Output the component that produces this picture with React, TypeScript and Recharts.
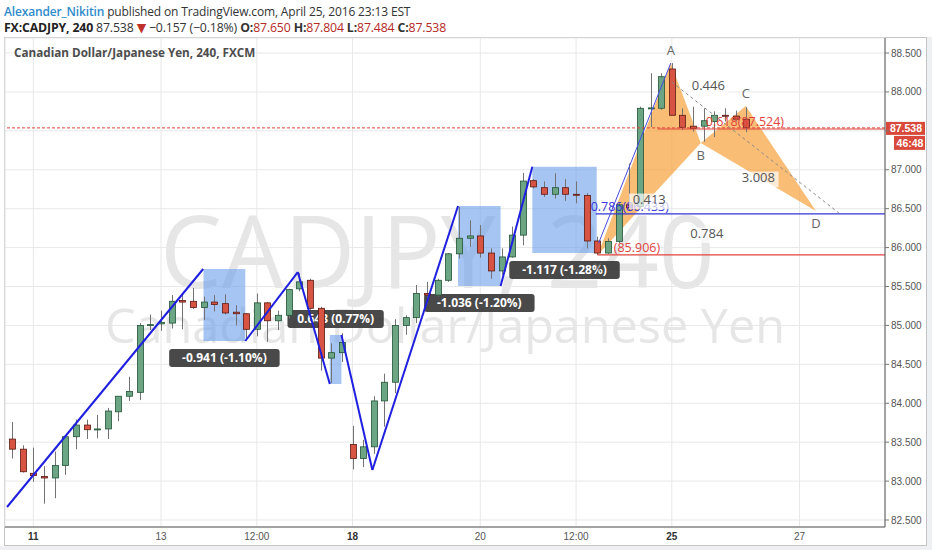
import React from "react";
import {
  ComposedChart, Bar, XAxis, YAxis, CartesianGrid, ReferenceLine,
  ReferenceArea, ReferenceDot, Scatter,
} from "recharts";

// 240-minute candles, index 0 = Apr 11 00:00
const firstIndex = -2;
const opens = [
  83.54, 83.41, 83.10, 83.06, 83.04, 83.20, 83.57, 83.72, 83.66, 83.67,
  83.89, 84.09, 84.14, 85.00, 85.02, 85.03, 85.32, 85.31, 85.23, 85.30,
  85.28, 85.17, 85.15, 84.95, 85.29, 85.06, 85.13, 85.47, 85.58, 85.22,
  84.58, 84.65, 83.47, 83.29, 83.44, 84.03, 84.27, 85.00, 85.10, 85.41,
  85.39, 85.58, 85.92, 86.12, 86.15, 85.93, 85.70, 85.88, 86.16, 86.86,
  86.77, 86.685, 86.77, 86.685, 86.67, 86.085, 85.93, 86.08, 86.55, 86.53,
  87.79, 87.79, 88.295, 87.70, 87.56, 87.56, 87.62, 87.70, 87.69, 87.65,
];
const highs = [
  83.76, 83.46, 83.43, 83.19, 83.38, 83.58, 83.79, 83.79, 83.85, 83.94,
  84.09, 84.34, 85.03, 85.14, 85.19, 85.39, 85.39, 85.48, 85.37, 85.39,
  85.40, 85.26, 85.16, 85.41, 85.30, 85.19, 85.47, 85.67, 85.60, 85.24,
  84.77, 84.90, 83.71, 83.53, 84.09, 84.38, 85.08, 85.13, 85.52, 85.56,
  85.60, 85.93, 86.52, 86.35, 86.29, 85.99, 85.99, 86.27, 86.96, 86.88,
  86.85, 86.955, 86.88, 86.85, 86.70, 86.14, 86.12, 86.57, 87.08, 87.81,
  88.24, 88.24, 88.37, 87.79, 87.81, 87.79, 87.75, 87.79, 87.76, 87.804,
];
const lows = [
  83.29, 83.11, 82.99, 82.71, 82.78, 83.08, 83.41, 83.54, 83.55, 83.54,
  83.77, 84.03, 84.04, 84.94, 84.93, 84.96, 84.95, 85.21, 85.07, 85.18,
  85.14, 85.00, 84.83, 84.86, 84.79, 84.94, 85.09, 85.44, 85.20, 84.42,
  84.26, 84.53, 83.15, 83.18, 83.35, 83.70, 84.13, 84.88, 85.03, 85.28,
  85.37, 85.56, 85.86, 86.01, 85.87, 85.60, 85.65, 85.87, 86.03, 86.76,
  86.65, 86.63, 86.60, 86.57, 85.99, 85.906, 85.92, 86.06, 86.48, 86.50,
  87.55, 87.77, 87.70, 87.51, 87.49, 87.36, 87.42, 87.62, 87.62, 87.484,
];
const closes = [
  83.41, 83.12, 83.07, 83.04, 83.20, 83.57, 83.72, 83.66, 83.67, 83.90,
  84.09, 84.15, 85.00, 85.01, 85.04, 85.31, 85.30, 85.23, 85.30, 85.27,
  85.16, 85.15, 84.95, 85.29, 85.06, 85.13, 85.46, 85.56, 85.22, 84.58,
  84.65, 84.78, 83.29, 83.44, 84.03, 84.27, 85.00, 85.10, 85.41, 85.39,
  85.58, 85.92, 86.12, 86.15, 85.93, 85.70, 85.88, 86.16, 86.855, 86.78,
  86.685, 86.77, 86.685, 86.675, 86.085, 85.93, 86.08, 86.55, 86.51, 87.79,
  87.795, 88.196, 87.70, 87.545, 87.53, 87.63, 87.70, 87.69, 87.65, 87.538,
];

const timeTicks = [0, 12, 21, 30, 42, 51, 60, 72];
const timeLabels = ["11", "13", "12:00", "18", "20", "12:00", "25", "27"];
const weekStarts = ["11", "18", "25"];
const priceTicks = [82.5, 83, 83.5, 84, 84.5, 85, 85.5, 86, 86.5, 87, 87.5, 88, 88.5];

// drawn trend lines [k1, p1, k2, p2]
const trendLines = [
  [-2.47, 82.667, 15.96, 85.725],
  [19.92, 84.8, 24.85, 85.686],
  [24.85, 85.686, 27.86, 84.247],
  [28.95, 84.877, 31.86, 83.142],
  [31.86, 83.142, 39.91, 86.534],
  [43.91, 85.506, 46.89, 87.039],
];
const xaLeg = [53.12, 86.059, 59.9, 88.37];
const guideLine = [59.99, 88.127, 75.7, 86.444];

// price range boxes
const rangeBoxes = [
  { k1: 15.99, k2: 19.92, top: 85.725, bottom: 84.8, text: "-0.941 (-1.10%)", up: false },
  { k1: 27.86, k2: 28.95, top: 84.877, bottom: 84.247, text: "0.643 (0.77%)", up: true },
  { k1: 39.91, k2: 43.91, top: 86.534, bottom: 85.506, text: "-1.036 (-1.20%)", up: false },
  { k1: 46.89, k2: 52.94, top: 87.039, bottom: 85.93, text: "-1.117 (-1.28%)", up: false },
];

// XABCD pattern
const patternPoints = [
  { name: "X", k: 53.03, p: 85.906, above: false },
  { name: "A", k: 59.9, p: 88.37, above: true },
  { name: "B", k: 62.72, p: 87.344, above: false },
  { name: "C", k: 66.95, p: 87.82, above: true },
  { name: "D", k: 73.54, p: 86.47, above: false },
];
const patternRatios = [
  { from: "X", to: "B", text: "0.413" },
  { from: "A", to: "C", text: "0.446" },
  { from: "B", to: "D", text: "3.008" },
  { from: "X", to: "D", text: "0.784" },
];

const fibLevels = [
  { price: 86.433, fromK: 52.84, textK: 52.37, text: "0.786(86.433)", color: "#3434d8" },
  { price: 85.906, fromK: 53.0, textK: 54.54, text: "(85.906)", color: "#e0443c" },
  { price: 87.524, fromK: 58.67, textK: 63.19, text: "0.618(87.524)", color: "#e0443c" },
];

const lastPrice = 87.538;
const countdown = "46:48";

const X_DOMAIN = [-2.662, 80.03];
const Y_DOMAIN = [82.41, 88.693];

const candles = opens.map((o, i) => ({
  k: firstIndex + i, o, h: highs[i], l: lows[i], c: closes[i], range: [lows[i], highs[i]],
}));
const pt = (n: string) => patternPoints.find((q) => q.name === n)!;
const triangleXAB = ["X", "A", "B"].map(pt);
const triangleBCD = ["B", "C", "D"].map(pt);

const FONT = '"Open Sans", "DejaVu Sans", sans-serif';
const AXIS_FONT = '"Liberation Sans", Arial, sans-serif';

function Candle(props: any) {
  const { x, y, width, height, payload } = props;
  if (x == null || payload == null) return null;
  const top = Math.min(y, y + height);
  const bot = Math.max(y, y + height);
  const span = payload.h - payload.l;
  const ppu = span > 0 ? (bot - top) / span : 0;
  const cx = Math.round(x + width / 2) + 0.5;
  const yO = top + (payload.h - payload.o) * ppu;
  const yC = top + (payload.h - payload.c) * ppu;
  const up = payload.c >= payload.o;
  const bTop = Math.min(yO, yC);
  const bH = Math.max(Math.abs(yO - yC), 1);
  return (
    <g>
      <line x1={cx} x2={cx} y1={top} y2={bot} stroke="#737375" strokeWidth={1} />
      <rect
        x={cx - 3} y={bTop} width={6} height={bH}
        fill={up ? "#6ba583" : "#d75442"}
        stroke={up ? "#225437" : "#5b1a13"} strokeWidth={0.8}
      />
    </g>
  );
}

function Polygon(fill: string) {
  return (props: any) => {
    const pts = (props.points || []).map((q: any) => `${q.x},${q.y}`).join(" ");
    return <polygon points={pts} fill={fill} fillOpacity={0.72} stroke="none" />;
  };
}

function TimeTick(props: any) {
  const { x, y, payload } = props;
  const label = timeLabels[timeTicks.indexOf(payload.value)] ?? "";
  return (
    <text x={x} y={y} dy="0.71em" textAnchor="middle" fontSize={10} fontFamily={AXIS_FONT}
      fill={weekStarts.includes(label) ? "#333" : "#555"} fontWeight={weekStarts.includes(label) ? 700 : 400}>
      {label}
    </text>
  );
}

// price label hidden under the last-price tag, as in the original
function PriceTick(props: any) {
  const { x, y, payload } = props;
  if (Math.abs(payload.value - lastPrice) < 0.1) return null;
  return (
    <text x={x} y={y} dy="0.355em" textAnchor="start" fontSize={10} fontFamily={AXIS_FONT} fill="#555">
      {payload.value.toFixed(3)}
    </text>
  );
}

function RangeTag({ viewBox, text, up }: any) {
  if (!viewBox) return null;
  const cx = viewBox.x + viewBox.width / 2;
  const cy = up ? viewBox.y - 16 : viewBox.y + viewBox.height + 17;
  const w = text.length * 7.1 + 4;
  return (
    <g>
      <rect x={cx - w / 2} y={cy - 9} width={w} height={18} rx={3} fill="#3a3a3a" fillOpacity={0.92} />
      <text x={cx} y={cy + 4} textAnchor="middle" fontSize={12} fontWeight={700} fontFamily={FONT} fill="#fff">
        {text}
      </text>
    </g>
  );
}

function PriceTag({ viewBox }: any) {
  if (!viewBox) return null;
  const x = viewBox.x + viewBox.width + 1;
  const y = viewBox.y;
  return (
    <g fontFamily={AXIS_FONT} fontWeight={700} fontSize={10.5}>
      <rect x={x} y={y - 6} width={39} height={13} fill="#d8493b" />
      <text x={x + 20} y={y + 4} textAnchor="middle" fill="#fff">{lastPrice.toFixed(3)}</text>
      <rect x={x + 8} y={y + 8} width={31} height={14} fill="#d8493b" />
      <text x={x + 24} y={y + 19} textAnchor="middle" fill="#fff">{countdown}</text>
    </g>
  );
}

function TextMark({ text, dy, color, size, anchor, bg }: any) {
  return (props: any) => {
    const { cx, cy } = props;
    if (cx == null) return null;
    const w = text.length * size * 0.56 + 4;
    return (
      <g>
        {bg && <rect x={cx - w / 2} y={cy + dy - size * 0.8} width={w} height={size * 1.2} fill="#fff" fillOpacity={0.7} />}
        <text x={cx} y={cy + dy} textAnchor={anchor || "middle"} fontSize={size} fontFamily={FONT} fill={color}>
          {text}
        </text>
      </g>
    );
  };
}

export default function App() {
  return (
    <div style={{ position: "absolute", left: 0, top: 0, width: 932, height: 550, background: "#fff", overflow: "hidden", fontFamily: FONT }}>
      {/* header */}
      <div style={{ position: "absolute", left: 4, top: 3, fontSize: 12, letterSpacing: -0.15, lineHeight: "18px", color: "#333", whiteSpace: "nowrap" }}>
        <span style={{ color: "#2f8bcb", fontWeight: 600 }}>Alexander_Nikitin</span> published on TradingView.com, April 25, 2016 23:13 EST
      </div>
      <div style={{ position: "absolute", left: 4, top: 19, fontSize: 12.3, letterSpacing: -0.15, lineHeight: "18px", color: "#333", whiteSpace: "nowrap" }}>
        <b style={{ color: "#222" }}>FX:CADJPY, 240</b> 87.538 <span style={{ color: "#c0302a" }}>▼</span> −0.157 (−0.18%){" "}
        <b>O:</b><span style={{ color: "#b52a26" }}>87.650</span> <b>H:</b><span style={{ color: "#b52a26" }}>87.804</span>{" "}
        <b>L:</b><span style={{ color: "#b52a26" }}>87.484</span> <b>C:</b><span style={{ color: "#b52a26" }}>87.538</span>
      </div>

      {/* frame */}
      <div style={{ position: "absolute", left: 4, top: 37, width: 923, height: 509, border: "1px solid #c4c4c4", boxSizing: "border-box" }} />
      <div style={{ position: "absolute", left: 0, top: 546, width: 932, height: 4, background: "#eef0f4" }} />
      <div style={{ position: "absolute", left: 927, top: 37, width: 5, height: 513, background: "#eef0f4" }} />

      {/* watermark */}
      <svg width={932} height={550} style={{ position: "absolute", left: 0, top: 0 }}>
        <text x={160} y={288} fontSize={100} fontFamily={FONT} fill="#e6e6e6" textLength={555} lengthAdjust="spacingAndGlyphs">
          CADJPY, 240
        </text>
        <text x={105} y={343} fontSize={48} fontFamily={FONT} fill="#e6e6e6" textLength={680} lengthAdjust="spacingAndGlyphs">
          Canadian Dollar/Japanese Yen
        </text>
      </svg>

      <div style={{ position: "absolute", left: 0, top: 0 }}>
        <ComposedChart width={932} height={550} data={candles} margin={{ top: 38, right: 5, bottom: 5, left: 5 }}>
          <CartesianGrid stroke="#e8e8e8" />
          <XAxis
            dataKey="k" type="number" domain={X_DOMAIN} allowDataOverflow ticks={timeTicks}
            height={18} tick={<TimeTick />} tickLine={false} tickSize={4} tickMargin={2}
            axisLine={{ stroke: "#555" }} interval={0}
          />
          <YAxis
            orientation="right" type="number" domain={Y_DOMAIN} allowDataOverflow ticks={priceTicks}
            width={42} tickSize={4} tickMargin={2} interval={0}
            tick={<PriceTick />}
            axisLine={{ stroke: "#555" }} tickLine={{ stroke: "#777" }}
          />

          <Scatter data={triangleXAB} dataKey="p" line={Polygon("#f7a440")} shape={() => <g />} isAnimationActive={false} zIndex={50} />
          <Scatter data={triangleBCD} dataKey="p" line={Polygon("#f7a440")} shape={() => <g />} isAnimationActive={false} zIndex={50} />

          <ReferenceLine y={lastPrice} stroke="#e0433a" strokeDasharray="3 2" strokeWidth={1} label={<PriceTag />} />
          {fibLevels.map((f) => (
            <ReferenceLine key={f.text} segment={[{ x: f.fromK, y: f.price }, { x: X_DOMAIN[1], y: f.price }]}
              stroke={f.color} strokeWidth={1.2} />
          ))}
          {fibLevels.map((f) => (
            <ReferenceDot key={"t" + f.text} x={f.textK} y={f.price} r={0}
              shape={TextMark({ text: f.text, dy: -2.5, color: f.color, size: 12.5, anchor: "start" })} />
          ))}

          <Bar dataKey="range" barSize={7} shape={Candle} isAnimationActive={false} />

          {rangeBoxes.map((b) => (
            <ReferenceArea key={b.text} x1={b.k1} x2={b.k2} y1={b.bottom} y2={b.top}
              fill="#6d9eeb" fillOpacity={0.6} stroke="none"
              label={(p: any) => <RangeTag {...p} text={b.text} up={b.up} />} />
          ))}

          {trendLines.map((t, i) => (
            <ReferenceLine key={"tl" + i} segment={[{ x: t[0], y: t[1] }, { x: t[2], y: t[3] }]}
              stroke="#1f1fe0" strokeWidth={2} />
          ))}
          <ReferenceLine segment={[{ x: xaLeg[0], y: xaLeg[1] }, { x: xaLeg[2], y: xaLeg[3] }]} stroke="#4a4ae0" strokeWidth={1} />
          <ReferenceLine segment={[{ x: guideLine[0], y: guideLine[1] }, { x: guideLine[2], y: guideLine[3] }]}
            stroke="#8a8a8a" strokeWidth={1} strokeDasharray="3 3" />

          {patternRatios.map((r) => {
            const a = pt(r.from), b = pt(r.to);
            return (
              <ReferenceDot key={r.text} x={(a.k + b.k) / 2} y={(a.p + b.p) / 2} r={0}
                shape={TextMark({ text: r.text, dy: 5, color: "#555", size: 13, bg: true })} />
            );
          })}
          {patternPoints.map((q) => (
            <ReferenceDot key={q.name} x={q.k} y={q.p} r={0}
              shape={TextMark({ text: q.name, dy: q.above ? -8 : 17, color: "#666", size: 13 })} />
          ))}
        </ComposedChart>
      </div>

      {/* chart title */}
      <div style={{ position: "absolute", left: 14, top: 44, fontSize: 11.7, fontWeight: 700, color: "#4d4d4d", whiteSpace: "nowrap" }}>
        Canadian Dollar/Japanese Yen, 240, FXCM
      </div>
    </div>
  );
}
